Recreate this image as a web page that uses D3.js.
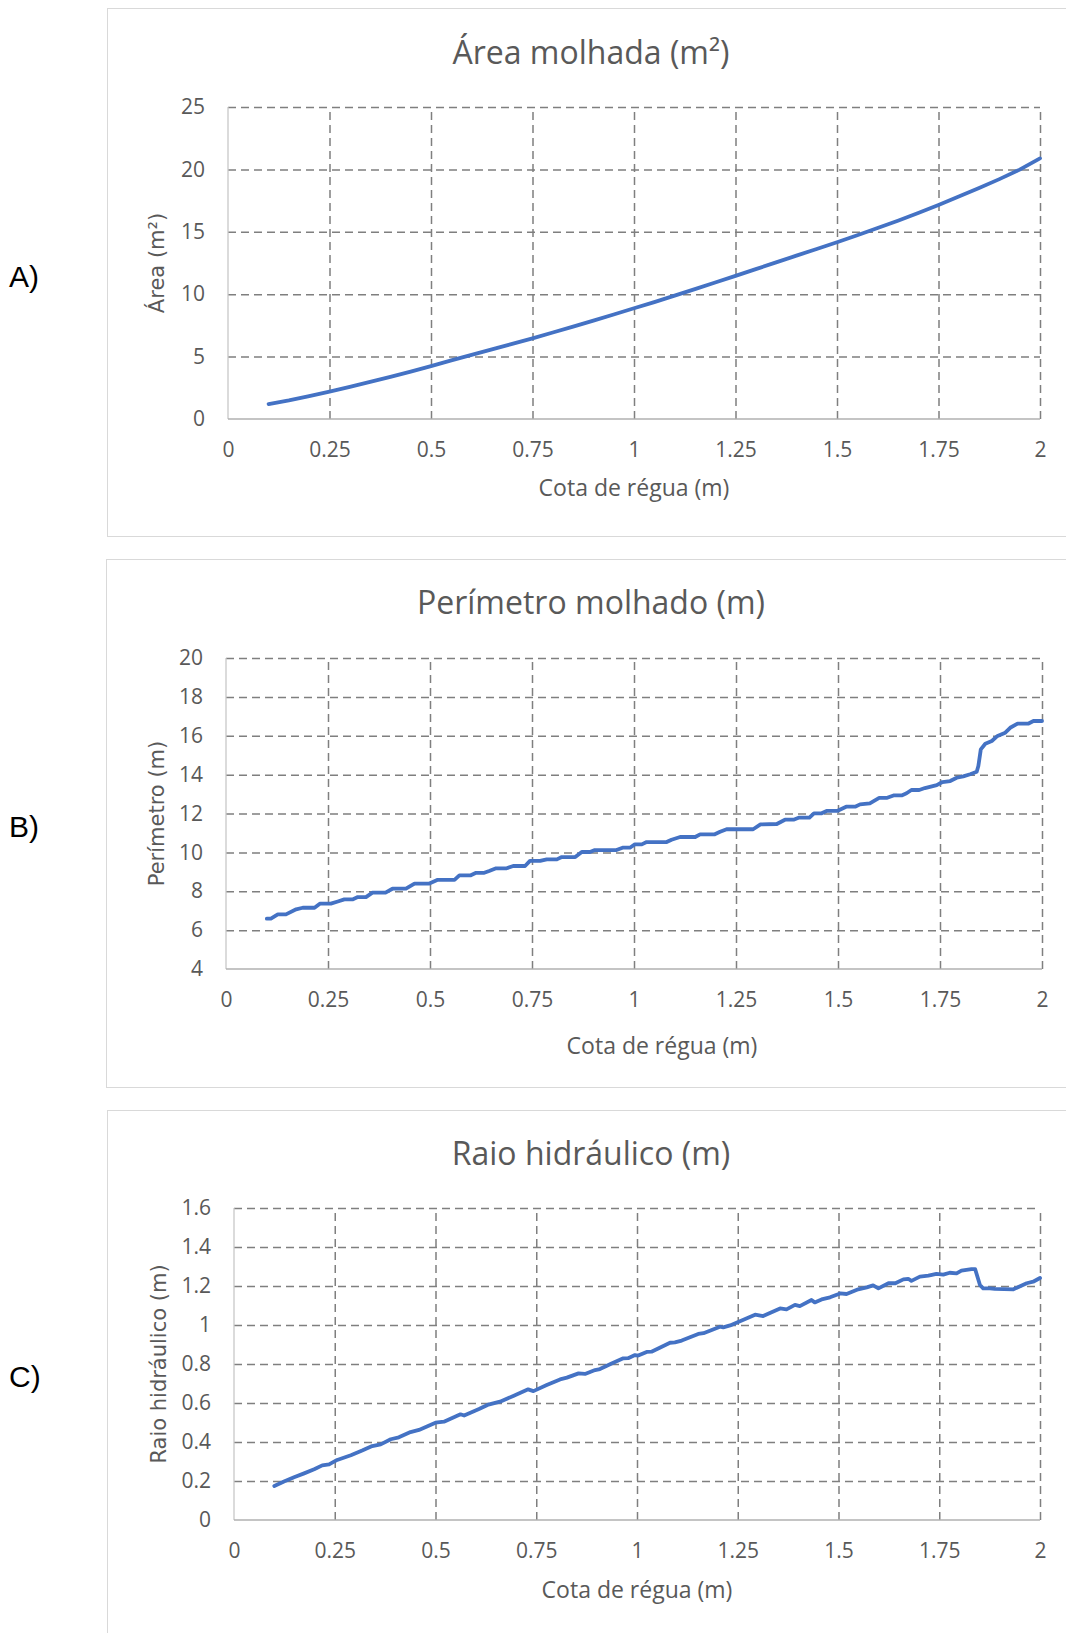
<!DOCTYPE html>
<html>
<head>
<meta charset="utf-8">
<script src="https://cdn.jsdelivr.net/npm/d3@7"></script>
<style>
  body { margin: 0; background: #ffffff; }
  svg { display: block; }
</style>
</head>
<body>
<svg id="fig" width="1066" height="1633"></svg>
<script>
// ---- shared x axis (Cota de régua, m) ----
const xTicks = [0, 0.25, 0.5, 0.75, 1, 1.25, 1.5, 1.75, 2];
const xTickLabels = ["0", "0.25", "0.5", "0.75", "1", "1.25", "1.5", "1.75", "2"];

// ---- A) Área molhada (m²) ----
const areaCota = [0.10, 0.15, 0.20, 0.25, 0.30, 0.35, 0.40, 0.45, 0.50, 0.55,
                  0.60, 0.65, 0.70, 0.75, 0.80, 0.85, 0.90, 0.95, 1.00, 1.05,
                  1.10, 1.15, 1.20, 1.25, 1.30, 1.35, 1.40, 1.45, 1.50, 1.55,
                  1.60, 1.65, 1.70, 1.75, 1.80, 1.85, 1.90, 1.95, 2.00];
const areaValor = [1.20, 1.50, 1.84, 2.20, 2.58, 2.97, 3.38, 3.80, 4.24, 4.70,
                   5.14, 5.58, 6.02, 6.46, 6.93, 7.40, 7.88, 8.37, 8.87, 9.37,
                   9.89, 10.41, 10.94, 11.47, 12.01, 12.55, 13.09, 13.62, 14.16, 14.72,
                   15.30, 15.89, 16.50, 17.15, 17.82, 18.50, 19.22, 19.98, 20.88];
const areaTicks = [0, 5, 10, 15, 20, 25];
const areaTickLabels = ["0", "5", "10", "15", "20", "25"];

// ---- B) Perímetro molhado (m) ----
const perimetroCota = [0.100, 0.110, 0.127, 0.147, 0.172, 0.188, 0.217, 0.230, 0.257, 0.274,
                       0.290, 0.310, 0.323, 0.343, 0.359, 0.391, 0.408, 0.441, 0.462, 0.497,
                       0.519, 0.560, 0.572, 0.600, 0.613, 0.633, 0.645, 0.662, 0.688, 0.704,
                       0.733, 0.745, 0.770, 0.786, 0.811, 0.823, 0.856, 0.872, 0.892, 0.904,
                       0.957, 0.972, 0.990, 1.002, 1.019, 1.031, 1.080, 1.092, 1.113, 1.150,
                       1.162, 1.198, 1.211, 1.227, 1.292, 1.310, 1.350, 1.370, 1.391, 1.405,
                       1.430, 1.441, 1.460, 1.472, 1.498, 1.520, 1.542, 1.554, 1.578, 1.601,
                       1.619, 1.636, 1.656, 1.668, 1.680, 1.699, 1.713, 1.730, 1.742, 1.756,
                       1.775, 1.791, 1.807, 1.824, 1.840, 1.844, 1.850, 1.861, 1.877, 1.891,
                       1.910, 1.922, 1.940, 1.966, 1.979, 2.000];
const perimetroValor = [6.59, 6.59, 6.81, 6.81, 7.07, 7.15, 7.15, 7.36, 7.36, 7.47,
                        7.58, 7.58, 7.70, 7.70, 7.93, 7.93, 8.13, 8.13, 8.39, 8.39,
                        8.59, 8.59, 8.82, 8.82, 8.95, 8.95, 9.04, 9.18, 9.18, 9.30,
                        9.30, 9.56, 9.56, 9.64, 9.64, 9.76, 9.76, 10.02, 10.02, 10.12,
                        10.12, 10.24, 10.24, 10.41, 10.41, 10.53, 10.53, 10.65, 10.79, 10.79,
                        10.93, 10.93, 11.06, 11.19, 11.19, 11.44, 11.46, 11.68, 11.68, 11.79,
                        11.79, 12.01, 12.01, 12.13, 12.13, 12.35, 12.35, 12.47, 12.52, 12.80,
                        12.80, 12.93, 12.93, 13.04, 13.21, 13.21, 13.31, 13.40, 13.46, 13.62,
                        13.67, 13.84, 13.91, 14.02, 14.15, 14.44, 15.30, 15.59, 15.73, 15.99,
                        16.16, 16.41, 16.62, 16.62, 16.76, 16.76];
const perimetroTicks = [4, 6, 8, 10, 12, 14, 16, 18, 20];
const perimetroTickLabels = ["4", "6", "8", "10", "12", "14", "16", "18", "20"];

// ---- C) Raio hidráulico (m) ----
const raioCota = [0.100, 0.124, 0.149, 0.174, 0.199, 0.219, 0.236, 0.256, 0.290, 0.318,
                  0.343, 0.364, 0.389, 0.409, 0.438, 0.459, 0.500, 0.521, 0.562, 0.571,
                  0.608, 0.629, 0.660, 0.693, 0.730, 0.743, 0.776, 0.809, 0.826, 0.855,
                  0.871, 0.896, 0.908, 0.937, 0.966, 0.978, 0.995, 1.003, 1.024, 1.036,
                  1.082, 1.094, 1.111, 1.152, 1.165, 1.206, 1.214, 1.231, 1.293, 1.313,
                  1.355, 1.371, 1.392, 1.404, 1.433, 1.441, 1.458, 1.479, 1.504, 1.520,
                  1.549, 1.570, 1.586, 1.599, 1.624, 1.641, 1.661, 1.673, 1.681, 1.702,
                  1.723, 1.743, 1.760, 1.776, 1.793, 1.805, 1.830, 1.839, 1.851, 1.859,
                  1.876, 1.888, 1.934, 1.967, 1.983, 2.000];
const raioValor = [0.174, 0.197, 0.219, 0.239, 0.260, 0.280, 0.285, 0.308, 0.332, 0.356,
                   0.379, 0.388, 0.414, 0.424, 0.451, 0.462, 0.499, 0.504, 0.542, 0.536,
                   0.569, 0.590, 0.607, 0.636, 0.670, 0.661, 0.692, 0.721, 0.730, 0.752,
                   0.749, 0.769, 0.774, 0.803, 0.829, 0.830, 0.846, 0.843, 0.862, 0.863,
                   0.909, 0.911, 0.920, 0.954, 0.958, 0.991, 0.988, 0.998, 1.053, 1.046,
                   1.085, 1.080, 1.103, 1.097, 1.128, 1.116, 1.131, 1.142, 1.162, 1.159,
                   1.183, 1.193, 1.203, 1.188, 1.214, 1.214, 1.234, 1.237, 1.226, 1.248,
                   1.253, 1.262, 1.258, 1.268, 1.265, 1.279, 1.287, 1.287, 1.205, 1.188,
                   1.188, 1.185, 1.183, 1.214, 1.222, 1.241];
const raioTicks = [0, 0.2, 0.4, 0.6, 0.8, 1, 1.2, 1.4, 1.6];
const raioTickLabels = ["0", "0.2", "0.4", "0.6", "0.8", "1", "1.2", "1.4", "1.6"];

// ---- panel layout ----
const panels = [
  { letter: "A)", letterY: 276, title: "Área molhada (m²)", yTitle: "Área (m²)",
    cota: areaCota, valor: areaValor, yTicks: areaTicks, yLabels: areaTickLabels,
    box: { x: 107.5, y: 8.5, w: 968, h: 528 },
    plot: { l: 228, r: 1040, t: 107, b: 419 },
    titleY: 53, yTitleX: 157, xTitleX: 634, xTitleY: 488 },
  { letter: "B)", letterY: 826, title: "Perímetro molhado (m)", yTitle: "Perímetro (m)",
    cota: perimetroCota, valor: perimetroValor, yTicks: perimetroTicks, yLabels: perimetroTickLabels,
    box: { x: 106.5, y: 559.5, w: 968, h: 528 },
    plot: { l: 226, r: 1042, t: 658, b: 969 },
    titleY: 603, yTitleX: 157, xTitleX: 662, xTitleY: 1046 },
  { letter: "C)", letterY: 1376, title: "Raio hidráulico (m)", yTitle: "Raio hidráulico (m)",
    cota: raioCota, valor: raioValor, yTicks: raioTicks, yLabels: raioTickLabels,
    box: { x: 107.5, y: 1110.5, w: 968, h: 530 },
    plot: { l: 234, r: 1040, t: 1208, b: 1520 },
    titleY: 1154, yTitleX: 159, xTitleX: 637, xTitleY: 1590 }
];

const svg = d3.select("#fig");
const textFont = "'Open Sans', Lato, sans-serif";
const textGrey = "#595959";

panels.forEach(p => {
  const g = svg.append("g");

  // chart frame
  g.append("rect")
    .attr("x", p.box.x).attr("y", p.box.y)
    .attr("width", p.box.w).attr("height", p.box.h)
    .attr("fill", "#ffffff").attr("stroke", "#d9d9d9").attr("stroke-width", 1);

  // panel letter
  svg.append("text")
    .attr("x", 9).attr("y", p.letterY)
    .attr("dy", "0.35em")
    .attr("font-family", "'Liberation Sans', Arial, sans-serif")
    .attr("font-size", 30).attr("fill", "#000000")
    .text(p.letter);

  const x = d3.scaleLinear().domain([0, 2]).range([p.plot.l, p.plot.r]);
  const yMin = p.yTicks[0], yMax = p.yTicks[p.yTicks.length - 1];
  const y = d3.scaleLinear().domain([yMin, yMax]).range([p.plot.b, p.plot.t]);

  // dashed gridlines
  const gridX = g.append("g")
    .attr("transform", `translate(0,${p.plot.b})`)
    .call(d3.axisBottom(x).tickValues(xTicks.filter(v => v > 0))
      .tickSize(-(p.plot.b - p.plot.t)).tickFormat(""));
  const gridY = g.append("g")
    .attr("transform", `translate(${p.plot.l},0)`)
    .call(d3.axisLeft(y).tickValues(p.yTicks.filter(v => v > yMin))
      .tickSize(-(p.plot.r - p.plot.l)).tickFormat(""));
  [gridX, gridY].forEach(gr => {
    gr.select(".domain").remove();
    gr.selectAll(".tick line")
      .attr("stroke", "#7f7f7f").attr("stroke-width", 1.5)
      .attr("stroke-dasharray", "8,5");
  });

  // solid axis lines
  g.append("line")
    .attr("x1", p.plot.l).attr("x2", p.plot.l)
    .attr("y1", p.plot.t).attr("y2", p.plot.b)
    .attr("stroke", "#c8c8c8").attr("stroke-width", 1.3);
  g.append("line")
    .attr("x1", p.plot.l).attr("x2", p.plot.r)
    .attr("y1", p.plot.b).attr("y2", p.plot.b)
    .attr("stroke", "#b0b0b0").attr("stroke-width", 1.3);

  // tick labels
  const axX = g.append("g")
    .attr("transform", `translate(0,${p.plot.b})`)
    .call(d3.axisBottom(x).tickValues(xTicks).tickSize(0).tickPadding(23)
      .tickFormat((d, i) => xTickLabels[i]));
  const axY = g.append("g")
    .attr("transform", `translate(${p.plot.l},0)`)
    .call(d3.axisLeft(y).tickValues(p.yTicks).tickSize(0).tickPadding(23)
      .tickFormat((d, i) => p.yLabels[i]));
  [axX, axY].forEach(ax => {
    ax.select(".domain").remove();
    ax.selectAll("text")
      .attr("font-family", textFont).attr("font-size", 21)
      .attr("fill", textGrey);
  });

  // data line
  const pts = p.cota.map((c, i) => [c, p.valor[i]]);
  g.append("path")
    .datum(pts)
    .attr("fill", "none")
    .attr("stroke", "#4472C4")
    .attr("stroke-width", 3.8)
    .attr("stroke-linejoin", "round")
    .attr("stroke-linecap", "round")
    .attr("d", d3.line().x(d => x(d[0])).y(d => y(d[1])));

  // chart title
  g.append("text")
    .attr("x", 591).attr("y", p.titleY)
    .attr("dy", "0.35em").attr("text-anchor", "middle")
    .attr("font-family", textFont).attr("font-size", 32)
    .attr("fill", textGrey)
    .text(p.title);

  // x axis title
  g.append("text")
    .attr("x", p.xTitleX).attr("y", p.xTitleY)
    .attr("dy", "0.35em").attr("text-anchor", "middle")
    .attr("font-family", textFont).attr("font-size", 23)
    .attr("fill", textGrey)
    .text("Cota de régua (m)");

  // y axis title
  const cy = (p.plot.t + p.plot.b) / 2;
  g.append("text")
    .attr("transform", `translate(${p.yTitleX},${cy}) rotate(-90)`)
    .attr("dy", "0.35em").attr("text-anchor", "middle")
    .attr("font-family", "'DejaVu Sans', Verdana, sans-serif").attr("font-size", 21)
    .attr("fill", textGrey)
    .text(p.yTitle);
});
</script>
</body>
</html>
